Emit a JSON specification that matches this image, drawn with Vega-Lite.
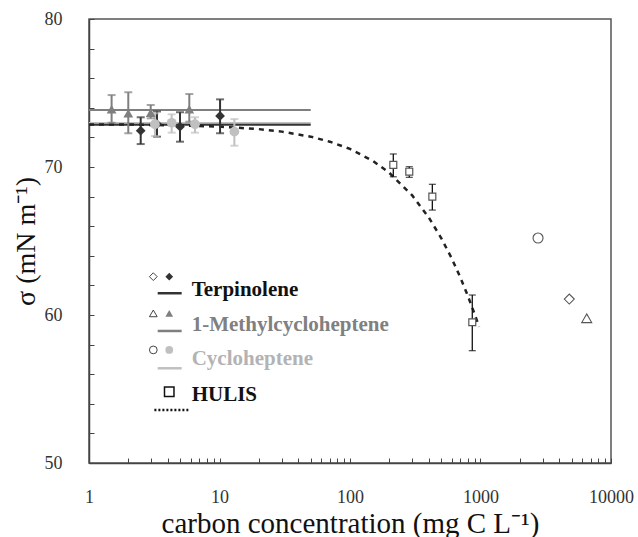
{
  "$schema": "https://vega.github.io/schema/vega-lite/v6.json",
  "width": 522,
  "height": 444,
  "autosize": {"type": "none"},
  "padding": {"left": 89, "top": 19, "right": 27, "bottom": 74},
  "background": "white",
  "config": {"view": {"stroke": "#555", "strokeWidth": 1.5}, "font": "Liberation Serif"},
  "datasets": {
    "pts": [
      {"s": "Terpinolene", "x": 2.49, "y": 72.45, "lo": 71.55, "hi": 73.36},
      {"s": "Terpinolene", "x": 3.32, "y": 72.9, "lo": 72.05, "hi": 73.75},
      {"s": "Terpinolene", "x": 4.98, "y": 72.72, "lo": 71.71, "hi": 73.7},
      {"s": "Terpinolene", "x": 10.1, "y": 73.45, "lo": 72.28, "hi": 74.57},
      {"s": "1-Methylcycloheptene", "x": 1.49, "y": 73.9, "lo": 72.99, "hi": 74.86},
      {"s": "1-Methylcycloheptene", "x": 2.0, "y": 73.63, "lo": 72.28, "hi": 75.05},
      {"s": "1-Methylcycloheptene", "x": 2.97, "y": 73.67, "lo": 73.29, "hi": 74.19},
      {"s": "1-Methylcycloheptene", "x": 5.87, "y": 73.9, "lo": 73.06, "hi": 74.93},
      {"s": "Cycloheptene", "x": 3.2, "y": 72.89, "lo": 72.09, "hi": 73.63},
      {"s": "Cycloheptene", "x": 4.3, "y": 72.99, "lo": 72.32, "hi": 73.56},
      {"s": "Cycloheptene", "x": 6.49, "y": 72.89, "lo": 72.32, "hi": 73.36},
      {"s": "Cycloheptene", "x": 13.0, "y": 72.39, "lo": 71.44, "hi": 73.24}
    ],
    "hulis": [
      {"s": "HULIS", "x": 214.7, "y": 70.14, "lo": 69.34, "hi": 70.88},
      {"s": "HULIS", "x": 284.6, "y": 69.68, "lo": 69.3, "hi": 70.02},
      {"s": "HULIS", "x": 427.5, "y": 68.0, "lo": 67.09, "hi": 68.83},
      {"s": "HULIS", "x": 865, "y": 59.51, "lo": 57.59, "hi": 61.35}
    ],
    "lines": [
      {"s": "1-Methylcycloheptene", "x": 1, "y": 73.85},
      {"s": "1-Methylcycloheptene", "x": 50, "y": 73.85},
      {"s": "Cycloheptene", "x": 1, "y": 72.97},
      {"s": "Cycloheptene", "x": 50, "y": 72.97},
      {"s": "Terpinolene", "x": 1, "y": 72.85},
      {"s": "Terpinolene", "x": 50, "y": 72.85}
    ],
    "curve": [
      {"x": 1, "y": 72.88}, {"x": 2, "y": 72.87}, {"x": 5, "y": 72.81},
      {"x": 10, "y": 72.73}, {"x": 20, "y": 72.56}, {"x": 30, "y": 72.39},
      {"x": 50, "y": 72.05}, {"x": 70, "y": 71.71}, {"x": 100, "y": 71.22},
      {"x": 150, "y": 70.41}, {"x": 200, "y": 69.61}, {"x": 300, "y": 68.08},
      {"x": 400, "y": 66.61}, {"x": 500, "y": 65.2}, {"x": 600, "y": 63.85},
      {"x": 700, "y": 62.55}, {"x": 800, "y": 61.29}, {"x": 900, "y": 60.08},
      {"x": 975, "y": 59.2}
    ],
    "open": [
      {"s": "Cycloheptene", "x": 2760, "y": 65.2},
      {"s": "Terpinolene", "x": 4790, "y": 61.08},
      {"s": "1-Methylcycloheptene", "x": 6515, "y": 59.78}
    ],
    "legOpen": [
      {"s": "Terpinolene", "x": 3.11, "y": 62.59},
      {"s": "1-Methylcycloheptene", "x": 3.11, "y": 60.11},
      {"s": "Cycloheptene", "x": 3.11, "y": 57.64}
    ],
    "legFilled": [
      {"s": "Terpinolene", "x": 4.12, "y": 62.59},
      {"s": "1-Methylcycloheptene", "x": 4.12, "y": 60.11},
      {"s": "Cycloheptene", "x": 4.12, "y": 57.64}
    ],
    "legSquare": [{"s": "HULIS", "x": 4.12, "y": 54.82}],
    "legLine": [
      {"s": "Terpinolene", "x": 3.36, "x2": 5.13, "y": 61.47},
      {"s": "1-Methylcycloheptene", "x": 3.36, "x2": 5.13, "y": 58.92},
      {"s": "Cycloheptene", "x": 3.36, "x2": 5.13, "y": 56.4}
    ],
    "legDot": [{"s": "HULIS", "x": 3.17, "x2": 5.77, "y": 53.58}],
    "legText": [
      {"s": "Terpinolene", "x": 6.12, "y": 61.69},
      {"s": "1-Methylcycloheptene", "x": 6.12, "y": 59.32},
      {"s": "Cycloheptene", "x": 6.12, "y": 57.03},
      {"s": "HULIS", "x": 6.12, "y": 54.59}
    ]
  },
  "encoding": {
    "x": {
      "field": "x", "type": "quantitative",
      "scale": {"type": "log", "domain": [1, 10000], "nice": false},
      "axis": {
        "title": "carbon concentration (mg C L⁻¹)",
        "values": [1,2,3,4,5,6,7,8,9,10,20,30,40,50,60,70,80,90,100,200,300,400,500,600,700,800,900,1000,2000,3000,4000,5000,6000,7000,8000,9000,10000],
        "format": "d",
        "labelExpr": "(datum.value == 1 || datum.value == 10 || datum.value == 100 || datum.value == 1000 || datum.value == 10000) ? datum.label : ''",
        "labelFlush": false,
        "labelOverlap": false,
        "grid": false,
        "tickSize": -5,
        "tickColor": "#444",
        "domainColor": "#444",
        "domainWidth": 1.5,
        "labelPadding": 30,
        "labelFont": "Liberation Serif",
        "labelFontSize": 18,
        "labelColor": "#333",
        "titleFont": "Liberation Serif",
        "titleFontSize": 29,
        "titleFontWeight": "normal",
        "titleColor": "#111",
        "titlePadding": 3
      }
    },
    "y": {
      "field": "y", "type": "quantitative",
      "scale": {"domain": [50, 80], "nice": false, "zero": false},
      "axis": {
        "title": "σ (mN m⁻¹)",
        "values": [50,52,54,56,58,60,62,64,66,68,70,72,74,76,78,80],
        "labelExpr": "datum.value % 10 == 0 ? datum.label : ''",
        "grid": false,
        "tickSize": -5,
        "tickColor": "#444",
        "domainColor": "#444",
        "domainWidth": 1.5,
        "labelPadding": 32,
        "labelFont": "Liberation Serif",
        "labelFontSize": 18,
        "labelColor": "#333",
        "titleFont": "Liberation Serif",
        "titleFontSize": 28,
        "titleFontWeight": "normal",
        "titleColor": "#111",
        "titlePadding": 4
      }
    }
  },
  "layer": [
    {
      "data": {"name": "lines"},
      "mark": {"type": "line", "strokeWidth": 2},
      "encoding": {
        "color": {"field": "s", "type": "nominal", "legend": null,
          "scale": {"domain": ["Terpinolene", "1-Methylcycloheptene", "Cycloheptene", "HULIS"], "range": ["#333333", "#7f7f7f", "#c0c0c0", "#111111"]}},
        "detail": {"field": "s"}
      }
    },
    {
      "data": {"name": "curve"},
      "mark": {"type": "line", "color": "#222", "strokeWidth": 2.5, "strokeDash": [5, 5]},
      "encoding": {}
    },
    {
      "data": {"name": "pts"},
      "mark": {"type": "rule", "strokeWidth": 2},
      "encoding": {
        "y": {"field": "lo", "type": "quantitative"},
        "y2": {"field": "hi"},
        "color": {"field": "s", "type": "nominal", "legend": null}
      }
    },
    {
      "data": {"name": "pts"},
      "mark": {"type": "tick", "orient": "horizontal", "size": 8, "thickness": 2},
      "encoding": {
        "y": {"field": "lo", "type": "quantitative"},
        "color": {"field": "s", "type": "nominal", "legend": null}
      }
    },
    {
      "data": {"name": "pts"},
      "mark": {"type": "tick", "orient": "horizontal", "size": 8, "thickness": 2},
      "encoding": {
        "y": {"field": "hi", "type": "quantitative"},
        "color": {"field": "s", "type": "nominal", "legend": null}
      }
    },
    {
      "data": {"name": "hulis"},
      "mark": {"type": "rule", "strokeWidth": 1.3, "color": "#111"},
      "encoding": {
        "y": {"field": "lo", "type": "quantitative"},
        "y2": {"field": "hi"}
      }
    },
    {
      "data": {"name": "hulis"},
      "mark": {"type": "tick", "orient": "horizontal", "size": 7, "thickness": 1.3, "color": "#111"},
      "encoding": {"y": {"field": "lo", "type": "quantitative"}}
    },
    {
      "data": {"name": "hulis"},
      "mark": {"type": "tick", "orient": "horizontal", "size": 7, "thickness": 1.3, "color": "#111"},
      "encoding": {"y": {"field": "hi", "type": "quantitative"}}
    },
    {
      "data": {"name": "pts"},
      "mark": {"type": "point", "filled": true, "opacity": 1, "size": 95},
      "encoding": {
        "shape": {"field": "s", "type": "nominal", "legend": null,
          "scale": {"domain": ["Terpinolene", "1-Methylcycloheptene", "Cycloheptene", "HULIS"], "range": ["diamond", "triangle-up", "circle", "square"]}},
        "color": {"field": "s", "type": "nominal", "legend": null}
      }
    },
    {
      "data": {"name": "hulis"},
      "mark": {"type": "point", "shape": "square", "filled": false, "fill": "white", "fillOpacity": 1, "stroke": "#555", "strokeWidth": 1.2, "opacity": 1, "size": 48},
      "encoding": {}
    },
    {
      "data": {"name": "open"},
      "mark": {"type": "point", "filled": false, "fill": "white", "fillOpacity": 1, "stroke": "#555", "strokeWidth": 1.1, "opacity": 1, "size": 100},
      "encoding": {
        "shape": {"field": "s", "type": "nominal", "legend": null}
      }
    },
    {
      "data": {"name": "legOpen"},
      "mark": {"type": "point", "filled": false, "stroke": "#444", "strokeWidth": 1, "opacity": 1, "size": 60},
      "encoding": {
        "shape": {"field": "s", "type": "nominal", "legend": null}
      }
    },
    {
      "data": {"name": "legFilled"},
      "mark": {"type": "point", "filled": true, "opacity": 1, "size": 60},
      "encoding": {
        "shape": {"field": "s", "type": "nominal", "legend": null},
        "color": {"field": "s", "type": "nominal", "legend": null}
      }
    },
    {
      "data": {"name": "legSquare"},
      "mark": {"type": "point", "shape": "square", "filled": false, "fill": "white", "stroke": "#111", "strokeWidth": 1.5, "opacity": 1, "size": 90},
      "encoding": {}
    },
    {
      "data": {"name": "legLine"},
      "mark": {"type": "rule", "strokeWidth": 2.5},
      "encoding": {
        "x2": {"field": "x2"},
        "color": {"field": "s", "type": "nominal", "legend": null}
      }
    },
    {
      "data": {"name": "legDot"},
      "mark": {"type": "rule", "strokeWidth": 2.5, "color": "#111", "strokeDash": [2, 2]},
      "encoding": {"x2": {"field": "x2"}}
    },
    {
      "data": {"name": "legText"},
      "mark": {"type": "text", "align": "left", "baseline": "middle", "font": "Liberation Serif", "fontWeight": "bold", "fontSize": 21},
      "encoding": {
        "text": {"field": "s"},
        "fill": {"field": "s", "type": "nominal", "legend": null,
          "scale": {"domain": ["Terpinolene", "1-Methylcycloheptene", "Cycloheptene", "HULIS"], "range": ["#111111", "#808080", "#b3b3b3", "#111111"]}}
      }
    }
  ]
}
